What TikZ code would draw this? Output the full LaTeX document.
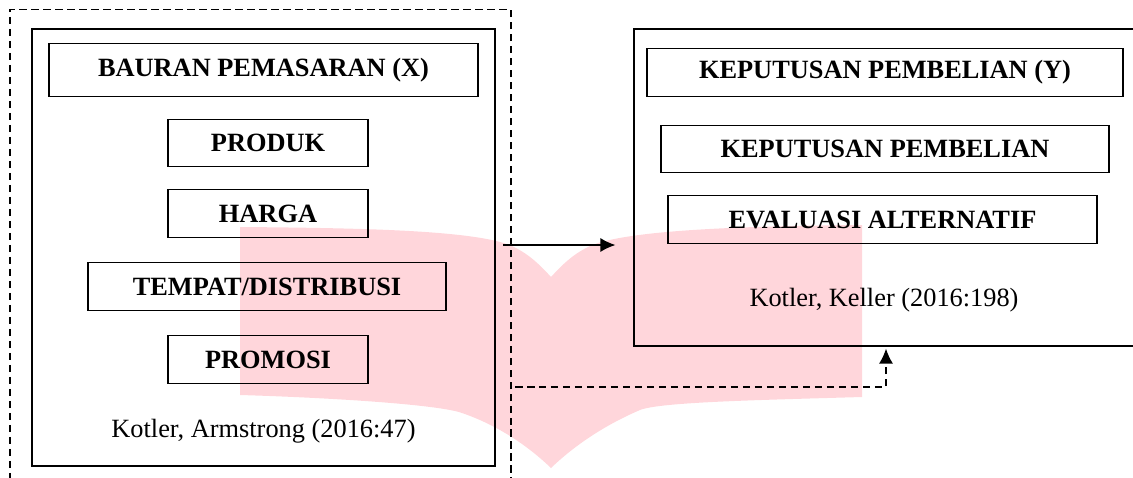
\documentclass[tikz,border=0pt]{standalone}
\usepackage{fontspec}
\setmainfont{Liberation Serif}
\usetikzlibrary{positioning}
\usetikzlibrary{arrows.meta}
\definecolor{wmpink}{RGB}{255,214,219}

\begin{document}
\begin{tikzpicture}[x=0.02cm, y=-0.02cm, line width=0.75pt, >={Latex[length=0.3cm,width=0.28cm]},
item/.style={draw, minimum width=#1, minimum height=0.95cm, inner sep=0pt, font=\fontsize{15}{18}\selectfont\bfseries},
holder/.style={draw, inner sep=0pt},
dashedline/.style={dash pattern=on 0.15cm off 0.09cm},
source/.style={inner sep=0pt, font=\fontsize{15}{18}\selectfont}]

\clip (0,0) rectangle (1133,477);

% watermark
\fill[wmpink] (240,227) .. controls (360,228) and (480,230) .. (514,247) .. controls (530,255) and (540,265) .. (551,277)
  .. controls (562,265) and (572,255) .. (588,247) .. controls (622,230) and (742,226) .. (862,225)
  -- (862,397) .. controls (760,400) and (660,402) .. (640,410) .. controls (605,425) and (575,445) .. (551,468)
  .. controls (527,445) and (497,425) .. (462,413) .. controls (440,405) and (340,398) .. (240,395) -- cycle;

% left side
\node[holder, dashedline, minimum width=10.02cm, minimum height=9.81cm] (frame) at (260.5,254.75) {};
\node[holder, minimum width=9.26cm, minimum height=8.74cm] (mixbox) at (263.5,247.5) {};

\node[item=8.58cm, minimum height=1.06cm] (bauran) at (263.5,70) {BAURAN PEMASARAN (X)};
\node[item=4cm] (produk) at (268,143) {PRODUK};
\node[item=4cm] (harga) at (268,213.5) {HARGA};
\node[item=7.16cm] (tempat) at (267,286.5) {TEMPAT/DISTRIBUSI};
\node[item=4cm] (promosi) at (268,359.5) {PROMOSI};
\node[source] (srcx) at (263.5,431) {Kotler, Armstrong (2016:47)};

% right side
\node[holder, minimum width=10cm, minimum height=6.34cm] (decbox) at (884,187.5) {};

\node[item=9.52cm] (keputusany) at (885,72.5) {KEPUTUSAN PEMBELIAN (Y)};
\node[item=8.96cm] (keputusan) at (885,149) {KEPUTUSAN PEMBELIAN};
\node[item=8.58cm] (evaluasi) at (882.5,219.5) {EVALUASI ALTERNATIF};
\node[source] (srcy) at (884,300) {Kotler, Keller (2016:198)};

% arrows
\coordinate (arrowstart) at (503,245);
\coordinate (dashstart) at (515,387);
\draw[->, shorten >=0.36cm] (arrowstart) -- (arrowstart -| decbox.west);
\draw[dashedline, ->, shorten >=0.04cm] (dashstart) -| ([xshift=0.04cm]decbox.south);
\end{tikzpicture}
\end{document}
